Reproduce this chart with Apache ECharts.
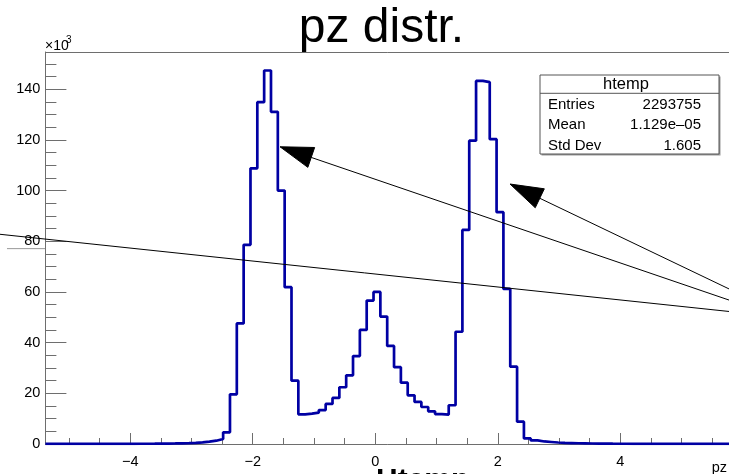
<!DOCTYPE html>
<html>
<head>
<meta charset="utf-8">
<script src="https://cdn.jsdelivr.net/npm/echarts@6/dist/echarts.min.js"></script>
<style>
html,body{margin:0;padding:0;background:#fff;}
#chart{width:729px;height:474px;}
</style>
</head>
<body>
<div id="chart"></div>
<script>
// ---- data (counts in thousands) ----
const binLow = -5.385;
const binWidth = 0.1116;
const counts = [
  0.02,0.02,0.02,0.03,0.03,0.03,0.04,0.04,0.05,0.05,0.06,0.07,0.08,0.09,0.10,0.12,
  0.15,0.18,0.22,0.28,0.35,0.45,0.65,0.95,1.3,2.0,4.6,19.6,47.6,78.6,
  108.8,134.9,147.4,131.1,100.0,61.9,25.0,11.7,12.0,12.4,
  13.4,15.8,18.2,22.4,27.1,34.7,45.0,56.6,60.0,50.3,
  38.7,30.3,24.2,19.2,16.6,14.6,12.9,11.8,11.6,15.3,
  44.3,84.5,119.7,143.3,142.8,120.3,91.5,61.2,30.5,8.8,
  2.2,1.4,1.0,0.8,0.6,0.45,0.38,0.30,0.25,0.20,
  0.16,0.13,0.11,0.10,0.09,0.08,0.07,0.06,0.05,0.05,
  0.04,0.04,0.03,0.03,0.03,0.02,0.02,0.02,0.02,0.02
];
const xMin = -5.385, xMax = 5.775;
const yMin = 0, yMax = 154.7;
const xMajorTicks = [-4, -2, 0, 2, 4];
const xMinorTicks = [-5, -4.5, -3.5, -3, -2.5, -1.5, -1, -0.5, 0.5, 1, 1.5, 2.5, 3, 3.5, 4.5, 5, 5.5];
const yMajorTicks = [0, 20, 40, 60, 80, 100, 120, 140];
const yMinorTicks = [5,10,15,25,30,35,45,50,55,65,70,75,85,90,95,105,110,115,125,130,135,145,150];
// annotation segments in data coords: [x1, y1, x2, y2]
const plainLines = [[-6.126, 82.76, 5.776, 52.3]];
const greyLines = [[-6.012, 77.1, -5.39, 77.1]];
// arrows: [tipX, tipY, tailX, tailY]
const arrows = [[-1.555, 117.3, 5.776, 56.8], [2.200, 102.6, 5.776, 61.2]];
const statsTitle = 'htemp';
const statsRows = [['Entries', '2293755'], ['Mean', '1.129e\u201305'], ['Std Dev', '1.605']];

// ---- build ----
const histData = counts.map((v, i) => [binLow + i * binWidth, v]);
histData.push([binLow + counts.length * binWidth, counts[counts.length - 1]]);

const FONT = 'Liberation Sans, Arial, Helvetica, sans-serif';
const AX = '#6e6e6e';

const annData = [];
plainLines.forEach(s => annData.push([s[0], s[1], s[2], s[3], 0]));
greyLines.forEach(s => annData.push([s[0], s[1], s[2], s[3], 1]));
arrows.forEach(s => annData.push([s[0], s[1], s[2], s[3], 2]));

function renderAnn(params, api) {
  const p1 = api.coord([api.value(0), api.value(1)]);
  const p2 = api.coord([api.value(2), api.value(3)]);
  const kind = api.value(4);
  if (kind === 0 || kind === 1) {
    return {type: 'line', shape: {x1: p1[0], y1: p1[1], x2: p2[0], y2: p2[1]},
      style: {stroke: kind === 0 ? '#000' : '#999', lineWidth: 1}};
  }
  const dx = p2[0] - p1[0], dy = p2[1] - p1[1];
  const len = Math.sqrt(dx * dx + dy * dy);
  const ux = dx / len, uy = dy / len;
  const hl = 33, hw = 10.5;
  const bx = p1[0] + ux * hl, by = p1[1] + uy * hl;
  return {type: 'group', children: [
    {type: 'line', shape: {x1: bx, y1: by, x2: p2[0], y2: p2[1]}, style: {stroke: '#000', lineWidth: 1}},
    {type: 'polygon', shape: {points: [[p1[0], p1[1]], [bx - uy * hw, by + ux * hw], [bx + uy * hw, by - ux * hw]]},
      style: {fill: '#000', stroke: '#000', lineWidth: 1}}
  ]};
}

const chart = echarts.init(document.getElementById('chart'), null, {renderer: 'canvas'});
const boxX = 540, boxY = 75, boxW = 179, boxH = 79, headH = 18.3;
const statsChildren = [
  {type: 'rect', shape: {x: boxX + 1.5, y: boxY + 1.5, width: boxW, height: boxH}, style: {fill: '#999'}},
  {type: 'rect', shape: {x: boxX, y: boxY, width: boxW, height: boxH}, style: {fill: '#fff', stroke: '#555', lineWidth: 1}},
  {type: 'line', shape: {x1: boxX, y1: boxY + headH, x2: boxX + boxW, y2: boxY + headH}, style: {stroke: '#555', lineWidth: 1}},
  {type: 'text', x: 626, y: boxY + 9.5, style: {text: statsTitle, font: '16.5px ' + FONT, fill: '#000', align: 'center', verticalAlign: 'middle'}}
];
const rowY = [105, 124.5, 145.5];
statsRows.forEach((r, i) => {
  statsChildren.push({type: 'text', x: 548, y: rowY[i], style: {text: r[0], font: '15px ' + FONT, fill: '#000', align: 'left', verticalAlign: 'middle'}});
  statsChildren.push({type: 'text', x: 701, y: rowY[i], style: {text: r[1], font: '15px ' + FONT, fill: '#000', align: 'right', verticalAlign: 'middle'}});
});

const fmt = v => (v < 0 ? '\u2212' + Math.abs(v) : String(v));

chart.setOption({
  animation: false,
  backgroundColor: '#fff',
  grid: {left: 45.4, top: 52, width: 683.6, height: 392, containLabel: false},
  xAxis: [
    {type: 'value', min: xMin, max: xMax, position: 'bottom',
      axisLine: {show: true, onZero: false, lineStyle: {color: AX, width: 1}},
      axisTick: {show: true, inside: true, length: 11, customValues: xMajorTicks, lineStyle: {color: AX}},
      axisLabel: {show: true, customValues: xMajorTicks, margin: 10, fontSize: 14.5, fontFamily: FONT, color: '#000', formatter: fmt},
      splitLine: {show: false}},
    {type: 'value', min: xMin, max: xMax, position: 'bottom',
      axisLine: {show: false, onZero: false},
      axisTick: {show: true, inside: true, length: 6, customValues: xMinorTicks, lineStyle: {color: AX}},
      axisLabel: {show: false}, splitLine: {show: false}},
    {type: 'value', min: xMin, max: xMax, position: 'top',
      axisLine: {show: true, onZero: false, lineStyle: {color: AX, width: 1}},
      axisTick: {show: false}, axisLabel: {show: false}, splitLine: {show: false}}
  ],
  yAxis: [
    {type: 'value', min: yMin, max: yMax, position: 'left',
      axisLine: {show: true, onZero: false, lineStyle: {color: AX, width: 1}},
      axisTick: {show: true, inside: true, length: 21, customValues: yMajorTicks, lineStyle: {color: AX}},
      axisLabel: {show: true, customValues: yMajorTicks, margin: 5, fontSize: 14.5, fontFamily: FONT, color: '#000'},
      splitLine: {show: false}},
    {type: 'value', min: yMin, max: yMax, position: 'left',
      axisLine: {show: false, onZero: false},
      axisTick: {show: true, inside: true, length: 11, customValues: yMinorTicks, lineStyle: {color: AX}},
      axisLabel: {show: false}, splitLine: {show: false}}
  ],
  series: [
    {type: 'line', xAxisIndex: 0, yAxisIndex: 0, step: 'end', data: histData, showSymbol: false, symbol: 'none',
      lineStyle: {color: '#0000a3', width: 2.7}, z: 3},
    {type: 'custom', xAxisIndex: 0, yAxisIndex: 0, data: annData, renderItem: renderAnn, clip: false, z: 4,
      encode: {x: [0, 2], y: [1, 3]}, silent: true}
  ],
  graphic: [
    {type: 'text', x: 381.5, y: 29, style: {text: 'pz distr.', font: '48px ' + FONT, fill: '#000', align: 'center', verticalAlign: 'middle'}, z: 10},
    {type: 'text', x: 45, y: 46, style: {text: '\u00d710', font: '14px ' + FONT, fill: '#000', align: 'left', verticalAlign: 'middle'}, z: 10},
    {type: 'text', x: 66, y: 40, style: {text: '3', font: '10px ' + FONT, fill: '#000', align: 'left', verticalAlign: 'middle'}, z: 10},
    {type: 'text', x: 727, y: 468, style: {text: 'pz', font: '14.5px ' + FONT, fill: '#000', align: 'right', verticalAlign: 'middle'}, z: 10},
    {type: 'text', x: 376, y: 481, style: {text: 'Htemp', font: 'bold 30px ' + FONT, fill: '#000', align: 'left', verticalAlign: 'middle'}, z: 10},
    {type: 'group', children: statsChildren, z: 10}
  ]
});
</script>
</body>
</html>
